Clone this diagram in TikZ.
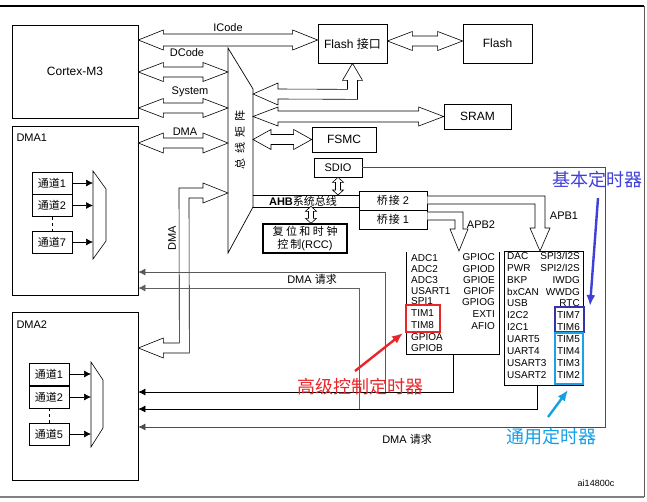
\documentclass[tikz,border=0pt]{standalone}
\usepackage{fontspec}
\setmainfont{Liberation Sans}
\newfontfamily\cjk{Noto Sans CJK SC}
\usetikzlibrary{calc,arrows.meta}
\definecolor{annred}{HTML}{E8262A}
\definecolor{annblue}{HTML}{3F3FD9}
\definecolor{annlblue}{HTML}{169FE3}
\definecolor{boxdblue}{HTML}{3434A8}
\definecolor{boxlblue}{HTML}{1AA3E0}
% horizontal hollow double arrow: #1 left tip, #2 right tip, #3 shaft half width, #4 head half width, #5 head length
\newcommand\fatH[5]{%
  \draw[fat] (#1) -- ++(#5,-#4) -- ++(0,#4-#3) -- ($(#2)+(-#5,-#3)$) -- ++(0,#3-#4) -- (#2)
    -- ++(-#5,#4) -- ++(0,#3-#4) -- ($(#1)+(#5,#3)$) -- ++(0,#4-#3) -- cycle;}
% vertical hollow double arrow: #1 top tip, #2 bottom tip
\newcommand\fatV[5]{%
  \draw[fat] (#1) -- ++(#4,#5) -- ++(#3-#4,0) -- ($(#2)+(#3,-#5)$) -- ++(#4-#3,0) -- (#2)
    -- ++(-#4,-#5) -- ++(#4-#3,0) -- ($(#1)+(-#3,#5)$) -- ++(#3-#4,0) -- cycle;}
\begin{document}
\begin{tikzpicture}[x=1pt,y=-1pt,
  box/.style={draw,line width=0.7pt,inner sep=1pt},
  fat/.style={draw,fill=white,line width=0.6pt,line join=miter,miter limit=10},
  t12/.style={font=\fontsize{12pt}{14pt}\selectfont},
  t11/.style={font=\fontsize{11pt}{13.5pt}\selectfont},
  t10/.style={font=\fontsize{10pt}{11.5pt}\selectfont,inner sep=0pt},
  req/.style={line width=0.7pt,-{Latex[length=7pt,width=7pt]}},
  chan/.style={box,t11,minimum width=40pt,minimum height=22pt,fill=white},
  ann/.style={font=\fontsize{18pt}{20pt}\selectfont\cjk,inner sep=0pt},
  annarrow/.style={line width=2.4pt,-{Latex[length=11pt,width=9pt]}},
]
\useasboundingbox (0,0) rectangle (647,501);
% frame
\draw[line width=1.2pt] (0,6) -- (644,6);
\draw[gray!70!black,line width=1pt] (644,6) -- (644,497);
\draw[gray,line width=1.6pt] (0,497) -- (644,497);

% main blocks
\node[box,t12,minimum width=126pt,minimum height=93pt] (cortex) at (75,71.5) {Cortex-M3};
\node[box,minimum width=126pt,minimum height=169pt] (dma1) at (75,210.5) {};
\node[t11,anchor=west] (dma1lbl) at (13,138) {DMA1};
\node[box,minimum width=126pt,minimum height=168pt] (dma2) at (75,396) {};
\node[t11,anchor=west] (dma2lbl) at (13,325) {DMA2};

% DMA1 channels and mux
\node[chan] (c11) at (52,183) {{\cjk 通道}1};
\node[chan] (c12) at (52,205.5) {{\cjk 通道}2};
\node[chan] (c17) at (52,242) {{\cjk 通道}7};
\draw[line width=0.6pt] (93,171) -- (106,189) -- (106,241) -- (93,259) -- cycle;
\coordinate (mux1) at (93,0);
\draw[req] (c11.east) -- (c11.east -| mux1);
\draw[req] (c12.east) -- (c12.east -| mux1);
\draw[req] (c17.east) -- (c17.east -| mux1);
\draw[dashed,line width=0.5pt] (c12.south) -- (c17.north);

% DMA2 channels and mux
\node[chan] (c21) at (49,374) {{\cjk 通道}1};
\node[chan] (c22) at (49,397) {{\cjk 通道}2};
\node[chan] (c25) at (49,434) {{\cjk 通道}5};
\draw[line width=0.6pt] (91,362) -- (103,380) -- (103,428) -- (91,447) -- cycle;
\coordinate (mux2) at (91,0);
\draw[req] (c21.east) -- (c21.east -| mux2);
\draw[req] (c22.east) -- (c22.east -| mux2);
\draw[req] (c25.east) -- (c25.east -| mux2);
\draw[dashed,line width=0.5pt] (c22.south) -- (c25.north);

% bus matrix
\draw[line width=0.7pt] (228,48) -- (253,89) -- (253,207) -- (228,253) -- cycle;
\coordinate (bmL) at (228,0);
\coordinate (bmR) at (253,0);
\node[t11,rotate=90] (bmtext) at (240,140) {\cjk 总\hspace{5pt}线\hspace{5pt}矩\hspace{5pt}阵};

% right-side blocks
\node[box,t12,minimum width=69pt,minimum height=39pt] (flashif) at (352.5,43.5) {Flash {\cjk 接口}};
\node[box,t12,minimum width=69pt,minimum height=39pt] (flash) at (497.5,43.5) {Flash};
\node[box,t12,minimum width=67pt,minimum height=25pt] (sram) at (477.5,116.5) {SRAM};
\node[box,t12,minimum width=64pt,minimum height=25pt] (fsmc) at (344,139.5) {FSMC};
\node[box,t11,minimum width=48pt,minimum height=19pt] (sdio) at (338,167.5) {SDIO};
\node[box,line width=1.4pt,t11,align=center,minimum width=84pt,minimum height=29pt,inner sep=0pt] (rcc) at (305,238.5)
  {{\cjk 复\kern2.5pt 位\kern2.5pt 和\kern2.5pt 时\kern2.5pt 钟}\\{\cjk 控\kern2pt 制}(RCC)};
\node[box,t11,minimum width=68pt,minimum height=19pt] (br2) at (393,200.5) {{\cjk 桥\kern1pt 接}\ 2};
\node[box,t11,minimum width=68pt,minimum height=19pt] (br1) at (393,219.5) {{\cjk 桥\kern1pt 接}\ 1};

% hollow arrows from Cortex / DMA1 to matrix
\coordinate (ic1) at (cortex.east |- 0,40);
\coordinate (ic2) at (flashif.west |- 0,40);
\fatH{ic1}{ic2}{6}{10}{25}
\node[t11] (icl) at (228,28) {ICode};
\coordinate (dc1) at (cortex.east |- 0,72);
\coordinate (dc2) at (bmL |- 0,72);
\fatH{dc1}{dc2}{5}{9.5}{25}
\node[t11] (dcl) at (187,53) {DCode};
\coordinate (sy1) at (cortex.east |- 0,108);
\coordinate (sy2) at (bmL |- 0,108);
\fatH{sy1}{sy2}{5}{9.5}{25}
\node[t11] (syl) at (190,92) {System};
\coordinate (dm1) at (dma1.east |- 0,143);
\coordinate (dm2) at (bmL |- 0,143);
\fatH{dm1}{dm2}{5}{10}{25}
\node[t11] (dml) at (185,132) {DMA};

% flash interface <-> flash
\coordinate (fl1) at (flashif.east |- 0,41);
\coordinate (fl2) at (flash.west |- 0,41);
\fatH{fl1}{fl2}{5}{9.5}{25}

% matrix -> flash interface (bent)
\coordinate (mf) at (bmR |- 0,94);
\draw[fat] (mf) -- ++(25,-11) -- ++(0,6) -- ($(flashif.south)+(-5,26)$) -- ($(flashif.south)+(-5,17)$)
  -- ($(flashif.south)+(-10,17)$) -- (flashif.south) -- ($(flashif.south)+(10,17)$) -- ($(flashif.south)+(5,17)$)
  -- ($(flashif.south)+(5,36)$) -- ($(mf)+(25,5)$) -- ($(mf)+(25,11)$) -- cycle;
% matrix <-> SRAM
\coordinate (ms) at (bmR |- sram.west);
\fatH{ms}{sram.west}{5.5}{9.5}{25}
% matrix <-> FSMC
\coordinate (mfs) at (bmR |- fsmc.west);
\fatH{mfs}{fsmc.west}{5}{10}{18}

% matrix <-> DMA2 (bent hollow arrow)
\coordinate (T1) at (bmL |- 0,193);
\coordinate (T2) at (dma2.east |- 0,348);
\draw[fat] (T1) -- ($(T1)+(-25,-10)$) -- ($(T1)+(-25,-5)$) -- ($(T1)+(-49,-5)$) -- ($(T2)+(41,-5)$)
  -- ($(T2)+(25,-5)$) -- ($(T2)+(25,-10)$) -- (T2) -- ($(T2)+(25,10)$) -- ($(T2)+(25,5)$)
  -- ($(T2)+(51,5)$) -- ($(T1)+(-39,5)$) -- ($(T1)+(-25,5)$) -- ($(T1)+(-25,10)$) -- cycle;
\node[t11,rotate=90] (dmav) at (172,238) {DMA};

% AHB system bus
\draw[line width=0.7pt] (bmR |- 0,195) -- (br2.west |- 0,195);
\draw[line width=0.7pt] (bmR |- 0,207) -- (br2.west |- 0,207);
\node[t11,inner sep=0pt] (ahb) at (303,201) {\textbf{AHB}{\cjk 系统总线}};
\coordinate (sd2) at (sdio.south |- 0,195);
\fatV{sdio.south}{sd2}{2.5}{5.5}{5}
\coordinate (rc1) at ($(rcc.north)+(6,-17)$);
\coordinate (rc2) at ($(rcc.north)+(6,0)$);
\fatV{rc1}{rc2}{2.5}{5.5}{5}

% APB boxes
\node[minimum width=92pt,minimum height=102pt,inner sep=0pt] (apb2) at (453,303) {};
\draw[line width=0.7pt] (apb2.north west) -- (apb2.south west) -- (apb2.south east) -- (apb2.north east);
\node[box,minimum width=79pt,minimum height=134pt,inner sep=0pt] (apb1) at (543.5,318) {};

% APB2 arrow (bridge 1)
\draw[fat] (br1.east |- 0,212) -- (463,212) -- (463,229) -- (468,229) -- (459,251) -- (450,229) -- (455,229)
  -- (455,220) -- (br1.east |- 0,220);
\node[t11] (apb2l) at (481,225) {APB2};
% APB1 arrow (bridge 2)
\draw[fat] (br2.east |- 0,196) -- (545,196) -- (545,228) -- (550,228) -- (540,251) -- (530,228) -- (535,228)
  -- (535,204) -- (br2.east |- 0,204);
\node[t11] (apb1l) at (564,216) {APB1};

% APB2 peripherals
\foreach \t/\y in {ADC1/258,ADC2/269,ADC3/280,USART1/291,SPI1/301,TIM1/313,TIM8/325,GPIOA/337,GPIOB/348}
  \node[t10,anchor=west] (p2l\y) at (411,\y) {\t};
\foreach \t/\y in {GPIOC/257,GPIOD/269,GPIOE/280,GPIOF/291,GPIOG/302,EXTI/314,AFIO/326}
  \node[t10,anchor=east] (p2r\y) at (495,\y) {\t};
% APB1 peripherals
\foreach \t/\y in {DAC/256,PWR/268,BKP/280,bxCAN/292,USB/303,I2C2/315,I2C1/327,UART5/339,UART4/351,USART3/363,USART2/375}
  \node[t10,anchor=west] (p1l\y) at (507,\y) {\t};
\foreach \t/\y in {{SPI3/I2S}/256,{SPI2/I2S}/268,IWDG/280,WWDG/292,RTC/303,TIM7/315,TIM6/327,TIM5/339,TIM4/351,TIM3/363,TIM2/375}
  \node[t10,anchor=east] (p1r\y) at (580,\y) {\t};

% highlight boxes
\node[draw=annred,line width=1.8pt,minimum width=34pt,minimum height=27pt,inner sep=0pt] (redbox) at (423,318.5) {};
\node[draw=boxdblue,line width=1.8pt,minimum width=29pt,minimum height=25pt,inner sep=0pt] (dbbox) at (569.5,319.5) {};
\node[draw=boxlblue,line width=1.8pt,minimum width=28pt,minimum height=51pt,inner sep=0pt] (lbbox) at (569,358.5) {};

% DMA request lines
\coordinate (j2) at (385,392);
\coordinate (j1) at (359,409);
\coordinate (a1b) at (537,385);
\coordinate (sdc) at (605,427);
\draw[req] (apb2.south) -- (apb2.south |- j2) -- (dma2.east |- j2);
\draw[req,gray!70!black] (j2) -- (j2 |- 0,272) -- (dma1.east |- 0,272);
\draw[req] (a1b) -- (a1b |- j1) -- (dma2.east |- j1);
\draw[req,gray!75!black] (j1) -- (j1 |- 0,288) -- (dma1.east |- 0,288);
\draw[req,gray!60!black] (sdio.east) -| (sdc) -- (dma2.east |- sdc);
\node[t11] (req1) at (312,279) {DMA {\cjk 请求}};
\node[t11] (req2) at (407,439) {DMA {\cjk 请求}};

% annotations
\node[ann,text=annblue] (lblbasic) at (597,180) {基本定时器};
\node[ann,text=annred] (lbladv) at (360,387) {高级控制定时器};
\node[ann,text=annlblue] (lblgen) at (551,437) {通用定时器};
\coordinate (ab1) at (598,198);
\coordinate (ab2) at (590,306);
\draw[annarrow,annblue] (ab1) -- (ab2);
\coordinate (ar1) at (355,371);
\coordinate (ar2) at (403,333);
\draw[annarrow,annred] (ar1) -- (ar2);
\coordinate (al1) at (548,417);
\coordinate (al2) at (568,390);
\draw[annarrow,annlblue] (al1) -- (al2);

\node[font=\fontsize{9pt}{10pt}\selectfont] (ai) at (596,483) {ai14800c};
\end{tikzpicture}
\end{document}
